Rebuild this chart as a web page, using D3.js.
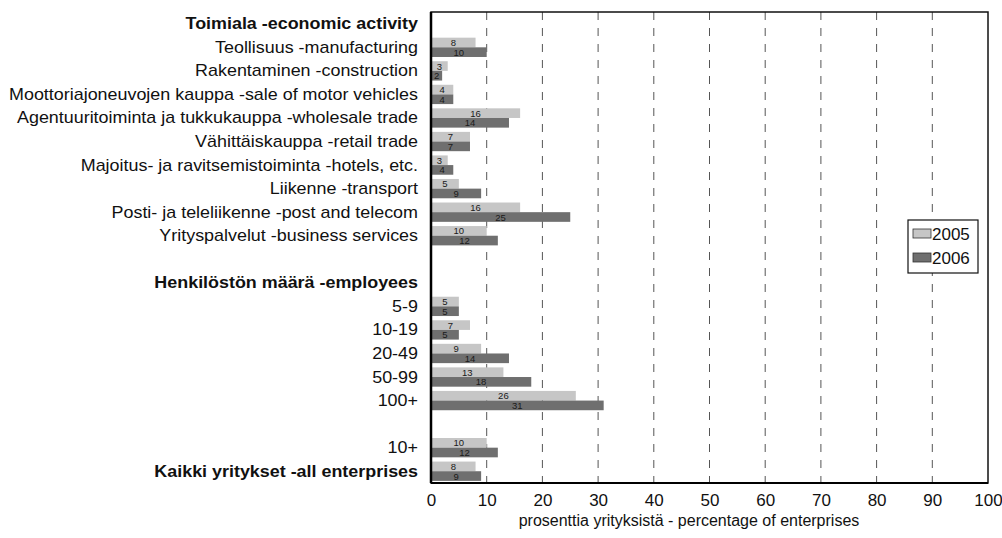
<!DOCTYPE html>
<html><head><meta charset="utf-8">
<script src="https://cdn.jsdelivr.net/npm/d3@7"></script>
<style>body{margin:0;background:#fff;}svg{display:block;font-family:"Liberation Sans",Arial,sans-serif;}</style>
</head><body><svg id="c" width="1002" height="538"></svg>
<script>
const categories = [
  "Toimiala -economic activity",
  "Teollisuus -manufacturing",
  "Rakentaminen -construction",
  "Moottoriajoneuvojen kauppa -sale of motor vehicles",
  "Agentuuritoiminta ja tukkukauppa -wholesale trade",
  "Vähittäiskauppa -retail trade",
  "Majoitus- ja ravitsemistoiminta -hotels, etc.",
  "Liikenne -transport",
  "Posti- ja teleliikenne -post and telecom",
  "Yrityspalvelut -business services",
  "",
  "Henkilöstön määrä -employees",
  "5-9",
  "10-19",
  "20-49",
  "50-99",
  "100+",
  "",
  "10+",
  "Kaikki yritykset -all enterprises"
];
const boldRows = [0, 11, 19];
const values2005 = [null, 8, 3, 4, 16, 7, 3, 5, 16, 10, null, null, 5, 7, 9, 13, 26, null, 10, 8];
const values2006 = [null, 10, 2, 4, 14, 7, 4, 9, 25, 12, null, null, 5, 5, 14, 18, 31, null, 12, 9];
const seriesNames = ["2005", "2006"];
const seriesColors = ["#c6c6c6", "#6f6f6f"];
const xTicks = [0, 10, 20, 30, 40, 50, 60, 70, 80, 90, 100];
const xTitle = "prosenttia yrityksistä - percentage of enterprises";

const svg = d3.select("#c");
const m = {left: 431, right: 988, top: 12, bottom: 483};
const x = d3.scaleLinear().domain([0, 100]).range([m.left, m.right]);
const y = d3.scaleBand().domain(categories.map((d, i) => i)).range([m.top, m.bottom]).paddingInner(0.18).paddingOuter(0.09);
const sub = d3.scaleBand().domain([0, 1]).range([0, y.bandwidth()]);

// gridlines
svg.append("g").selectAll("line").data(xTicks.filter(t => t > 0 && t < 100)).join("line")
  .attr("x1", d => x(d)).attr("x2", d => x(d)).attr("y1", m.top).attr("y2", m.bottom)
  .attr("stroke", "#555").attr("stroke-width", 1).attr("stroke-dasharray", "8,8");

// frame
svg.append("rect").attr("x", m.left).attr("y", m.top).attr("width", m.right - m.left).attr("height", m.bottom - m.top)
  .attr("fill", "none").attr("stroke", "#111").attr("stroke-width", 1.5);

// bars
const series = [values2005, values2006];
series.forEach((vals, si) => {
  const g = svg.append("g");
  const data = vals.map((v, i) => ({v, i})).filter(d => d.v != null);
  g.selectAll("rect").data(data).join("rect")
    .attr("x", x(0)).attr("y", d => y(d.i) + sub(si))
    .attr("width", d => x(d.v) - x(0)).attr("height", sub.bandwidth())
    .attr("fill", seriesColors[si]);
  g.selectAll("text").data(data).join("text")
    .attr("x", d => (x(0) + x(d.v)) / 2).attr("y", d => y(d.i) + sub(si) + sub.bandwidth() / 2 + 3.5)
    .attr("text-anchor", "middle").attr("font-size", 9.5).attr("fill", "#1a1a1a")
    .text(d => d.v);
});

// left axis line
svg.append("line").attr("x1", m.left).attr("x2", m.left).attr("y1", m.top).attr("y2", m.bottom)
  .attr("stroke", "#000").attr("stroke-width", 2.5);
svg.append("line").attr("x1", m.left).attr("x2", m.right).attr("y1", m.bottom).attr("y2", m.bottom)
  .attr("stroke", "#000").attr("stroke-width", 2);

// category labels (horizontally widened like the reference)
svg.append("g").selectAll("text").data(categories.map((c, i) => ({c, i}))).join("text")
  .attr("transform", d => `translate(418,${y(d.i) + y.bandwidth() / 2 + 5.5}) scale(1.12,1)`)
  .attr("text-anchor", "end").attr("font-size", 16)
  .attr("font-weight", d => boldRows.includes(d.i) ? "bold" : "normal")
  .attr("fill", "#111").text(d => d.c);

// x axis
const xAxis = svg.append("g").attr("transform", `translate(0,${m.bottom})`)
  .call(d3.axisBottom(x).tickValues(xTicks).tickSize(0).tickPadding(11));
xAxis.select(".domain").remove();
xAxis.selectAll("text").attr("font-size", 17).attr("fill", "#111").attr("font-family", "Liberation Sans, Arial, sans-serif");

svg.append("text").attr("x", 689).attr("y", 526).attr("text-anchor", "middle")
  .attr("font-size", 16).attr("fill", "#111").text(xTitle);

// legend
const lg = svg.append("g").attr("transform", "translate(908,220)");
lg.append("rect").attr("width", 70).attr("height", 53).attr("fill", "#fff").attr("stroke", "#111").attr("stroke-width", 1.2);
seriesNames.forEach((s, i) => {
  lg.append("rect").attr("x", 5).attr("y", 9 + i * 24).attr("width", 18).attr("height", 9)
    .attr("fill", seriesColors[i]).attr("stroke", "#333").attr("stroke-width", 0.8);
  lg.append("text").attr("x", 24).attr("y", 20 + i * 24).attr("font-size", 17).attr("fill", "#111").text(s);
});
</script></body></html>
